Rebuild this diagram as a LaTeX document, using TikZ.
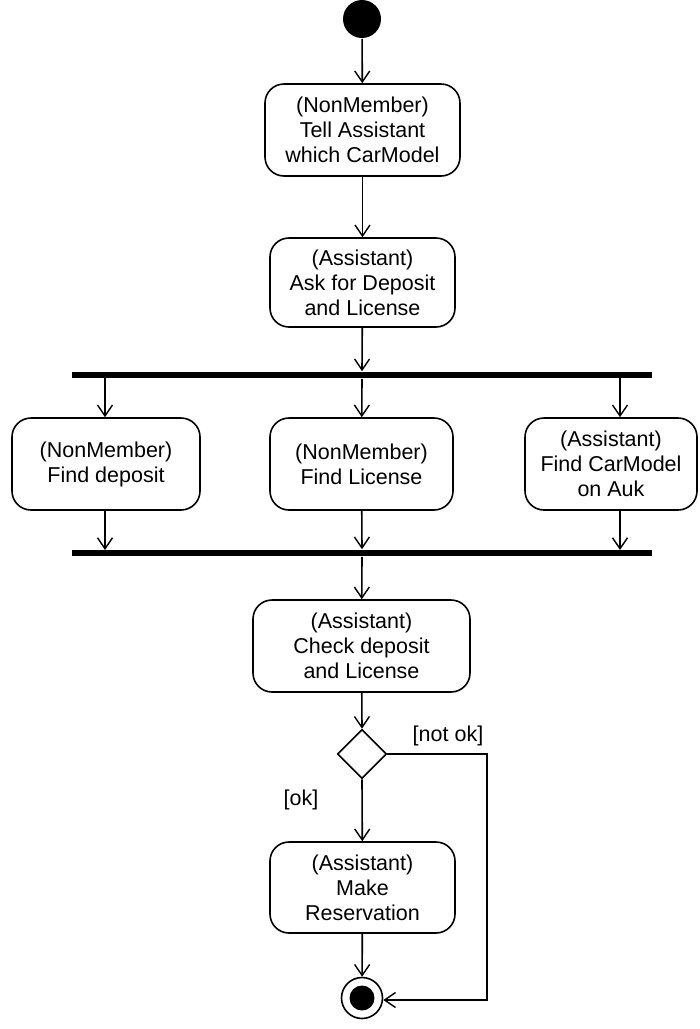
\documentclass[tikz,border=0pt]{standalone}
\usepackage{fontspec}
\setmainfont{Liberation Sans}
\usetikzlibrary{arrows.meta,shapes.geometric}
\begin{document}
\begin{tikzpicture}[x=1pt,y=-1pt,
  line width=1.6pt,
  act/.style={draw, rounded corners=19pt, align=center, inner sep=0pt,
    font=\fontsize{21.5}{25}\selectfont},
  bar/.style={fill=black, inner sep=0pt, minimum width=580pt, minimum height=6pt},
  arr/.style={-{Straight Barb[length=11pt,width=15pt,line width=1.4pt]}},
  lbl/.style={font=\fontsize{21.5}{25}\selectfont, inner sep=0pt}]
\useasboundingbox (0,0) rectangle (700,1029);
% start
\node[circle, fill=black, minimum size=38pt, inner sep=0pt] (start) at (362,19) {};
% activities
\node[act, minimum width=195pt, minimum height=92pt] (b1) at (362.5,130)
  {(NonMember)\\Tell Assistant\\which CarModel};
\node[act, minimum width=185pt, minimum height=89pt] (b2) at (362.5,282.5)
  {(Assistant)\\Ask for Deposit\\and License};
\node[bar] (fork) at (362,375) {};
\node[act, minimum width=188pt, minimum height=92pt] (b3) at (106,464)
  {(NonMember)\\Find deposit};
\node[act, minimum width=183pt, minimum height=92pt] (b4) at (361.5,464)
  {(NonMember)\\Find License};
\node[act, minimum width=172pt, minimum height=92pt] (b5) at (611,464)
  {(Assistant)\\Find CarModel\\on Auk};
\node[bar] (join) at (362,553) {};
\node[act, minimum width=217pt, minimum height=92pt] (b6) at (361.5,646)
  {(Assistant)\\Check deposit\\and License};
\node[diamond, draw, minimum width=49pt, minimum height=49pt, inner sep=0pt] (dec) at (362,754) {};
\node[act, minimum width=185pt, minimum height=91pt] (b7) at (362.5,887.5)
  {(Assistant)\\Make\\Reservation};
% end
\node[circle, draw, minimum size=41pt, inner sep=0pt] (end) at (362,998) {};
\node[circle, fill=black, minimum size=25pt, inner sep=0pt] at (end) {};
% coordinates on bars
\coordinate (f1) at (105,378);
\coordinate (f3) at (620,378);
\coordinate (j1) at (105,550);
\coordinate (j3) at (620,550);
\coordinate (nk) at (487,754);
\coordinate (nk2) at (487,1000);
% connectors
\draw[arr] (start) -- (b1);
\draw[arr] (b1) -- (b2);
\draw[arr] (b2) -- (fork.north);
\draw[arr] (f1) -- (f1 |- b3.north);
\draw[arr] (fork.south) -- (b4);
\draw[arr] (f3) -- (f3 |- b5.north);
\draw[arr] (j1 |- b3.south) -- (j1);
\draw[arr] (b4) -- (join.north);
\draw[arr] (j3 |- b5.south) -- (j3);
\draw[arr] (join.south) -- (b6);
\draw[arr] (b6) -- (dec.north);
\draw[arr] (dec.south) -- (b7);
\draw[arr] (b7) -- (end);
\draw[arr] (dec.east) -- (nk) -- (nk2) -- (end.east |- nk2);
% labels
\node[lbl, anchor=base] at (448,741) {[not ok]};
\node[lbl, anchor=base] at (301,805) {[ok]};
\end{tikzpicture}
\end{document}
